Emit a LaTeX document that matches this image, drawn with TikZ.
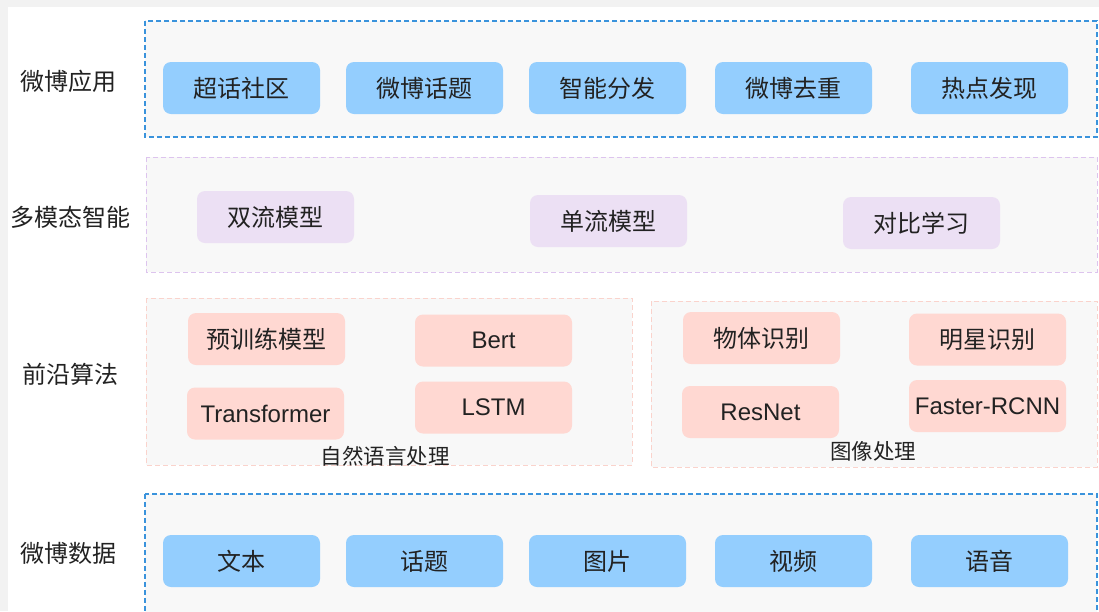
\documentclass[tikz,border=0pt]{standalone}
\usepackage{fontspec}
\usepackage{tikz}
\setmainfont{Liberation Sans}
\newfontfamily\cjkfont{Noto Sans CJK SC}
\definecolor{pagegray}{RGB}{242,242,242}
\definecolor{panelgray}{RGB}{248,248,248}
\definecolor{appblue}{RGB}{148,206,254}
\definecolor{dashblue}{RGB}{58,147,220}
\definecolor{modpurple}{RGB}{236,224,244}
\definecolor{dashpurple}{RGB}{221,196,238}
\definecolor{algpink}{RGB}{255,216,210}
\definecolor{dashpink}{RGB}{250,211,204}
\definecolor{inkgray}{RGB}{34,34,34}

\begin{document}
\begin{tikzpicture}[x=1pt,y=-1pt,
	every node/.style={text=inkgray},
	zh/.style={font=\cjkfont\fontsize{24}{28}\selectfont},
	latin/.style={font=\fontsize{24}{28}\selectfont},
	caption/.style={font=\cjkfont\fontsize{21.5}{25}\selectfont},
	item/.style={rounded corners=8pt,minimum width=157pt,minimum height=52pt,inner sep=0pt,zh},
	bluebox/.style={item,fill=appblue},
	purplebox/.style={item,fill=modpurple},
	pinkbox/.style={item,fill=algpink},
	layerblue/.style={draw=dashblue,fill=panelgray,line width=1.4pt,dash pattern=on 5pt off 3pt},
	layerpurple/.style={draw=dashpurple,fill=panelgray,line width=1pt,dash pattern=on 5pt off 3pt},
	layerpink/.style={draw=dashpink,fill=panelgray,line width=1pt,dash pattern=on 5pt off 3pt}]
	\useasboundingbox (0,0) rectangle (1099,611);
	\fill[pagegray] (0,0) rectangle (1099,611);
	\fill[white] (8,7) rectangle (1099,611);

	% layer frames
	\draw[layerblue] (145,21) rectangle (1097,137);
	\draw[layerpurple] (146,157) rectangle (1097,272);
	\draw[layerpink] (146,298) rectangle (632,465);
	\draw[layerpink] (651,301) rectangle (1097,467);
	\draw[layerblue] (145,494) rectangle (1097,616);

	% layer names
	\node[zh] (app) at (68,81) {微博应用};
	\node[zh] (multi) at (70,217) {多模态智能};
	\node[zh] (algo) at (70,374) {前沿算法};
	\node[zh] (data) at (68,553) {微博数据};

	% 微博应用
	\node[bluebox] (chaohua) at (241.5,88) {超话社区};
	\node[bluebox] (topic) at (424.5,88) {微博话题};
	\node[bluebox] (dispatch) at (607.5,88) {智能分发};
	\node[bluebox] (dedup) at (793.5,88) {微博去重};
	\node[bluebox] (hot) at (989.5,88) {热点发现};

	% 多模态智能
	\node[purplebox] (dual) at (275.5,217) {双流模型};
	\node[purplebox] (single) at (608.5,221) {单流模型};
	\node[purplebox] (contrast) at (921.5,223) {对比学习};

	% 前沿算法
	\node[pinkbox] (pretrain) at (266.5,339) {预训练模型};
	\node[pinkbox,latin] (bert) at (493.5,340.5) {Bert};
	\node[pinkbox,latin] (transformer) at (265.5,413.5) {Transformer};
	\node[pinkbox,latin] (lstm) at (493.5,407.5) {LSTM};
	\node[caption] (nlp) at (385,456) {自然语言处理};

	\node[pinkbox] (object) at (761.5,338) {物体识别};
	\node[pinkbox] (star) at (987.5,339.5) {明星识别};
	\node[pinkbox,latin] (resnet) at (760.5,412) {ResNet};
	\node[pinkbox,latin] (rcnn) at (987.5,406) {Faster-RCNN};
	\node[caption] (image) at (873,451) {图像处理};

	% 微博数据
	\node[bluebox] (text) at (241.5,561) {文本};
	\node[bluebox] (subject) at (424.5,561) {话题};
	\node[bluebox] (picture) at (607.5,561) {图片};
	\node[bluebox] (video) at (793.5,561) {视频};
	\node[bluebox] (voice) at (989.5,561) {语音};
\end{tikzpicture}
\end{document}
